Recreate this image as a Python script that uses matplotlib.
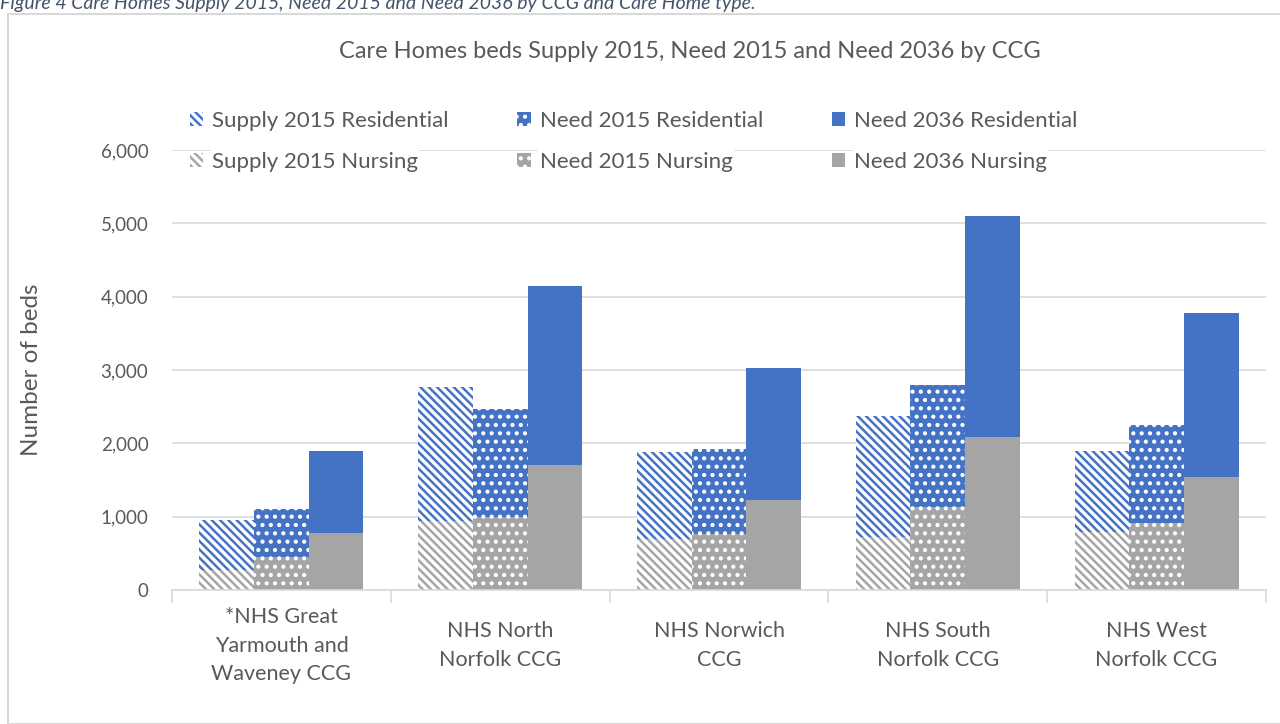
import numpy as np
import matplotlib
matplotlib.use("Agg")
from matplotlib import pyplot as plt
from matplotlib.patches import Rectangle

plt.rcParams['font.family'] = ['Lato', 'DejaVu Sans']
plt.rcParams['hatch.linewidth'] = 1.8

ccgs = ["*NHS Great\nYarmouth and\nWaveney CCG", "NHS North\nNorfolk CCG",
        "NHS Norwich\nCCG", "NHS South\nNorfolk CCG", "NHS West\nNorfolk CCG"]

# stacked: nursing at the bottom, residential on top
supply15_nursing = [273, 941, 695, 723, 795]
supply15_resid = [682, 1827, 1187, 1650, 1105]
need15_nursing = [450, 995, 764, 1132, 914]
need15_resid = [655, 1473, 1159, 1663, 1336]
need36_nursing = [777, 1705, 1227, 2086, 1541]
need36_resid = [1118, 2440, 1800, 3019, 2236]

blue = "#4472C4"
grey = "#A5A5A5"
txt = "#595959"

fig = plt.figure(figsize=(12.8, 7.24), dpi=100)
# outer chart frame + caption (caption is cropped at the top, as in the source)
fig.patches.append(Rectangle((8/1280, 0), 1.0, 1 - 14/724, transform=fig.transFigure,
                             fill=False, edgecolor="#d9d9d9", linewidth=1.5))
fig.text(0.0, 1 - 3/724, "Figure 4 Care Homes Supply 2015, Need 2015 and Need 2036 by CCG and Care Home type.",
         ha="left", va="center", fontsize=14, style="italic", color="#44546a")
fig.text(690/1280, 1 - 52/724, "Care Homes beds Supply 2015, Need 2015 and Need 2036 by CCG",
         ha="center", va="center", fontsize=17, color=txt)

ax = fig.add_axes([172/1280, 1 - 590/724, (1266 - 172)/1280, 440/724])
x = np.arange(len(ccgs))
w = 0.25

# supply 2015 - diagonal stripes
ax.bar(x - w, supply15_nursing, w, color="white", edgecolor=grey, hatch="\\\\\\\\", linewidth=0,
       label="Supply 2015 Nursing")
ax.bar(x - w, supply15_resid, w, bottom=supply15_nursing, color="white", edgecolor=blue,
       hatch="\\\\\\\\", linewidth=0, label="Supply 2015 Residential")
# need 2015 - dotted
ax.bar(x, need15_nursing, w, color=grey, edgecolor="white", hatch="..", linewidth=0,
       label="Need 2015 Nursing")
ax.bar(x, need15_resid, w, bottom=need15_nursing, color=blue, edgecolor="white", hatch="..",
       linewidth=0, label="Need 2015 Residential")
# need 2036 - solid
ax.bar(x + w, need36_nursing, w, color=grey, linewidth=0, label="Need 2036 Nursing")
ax.bar(x + w, need36_resid, w, bottom=need36_nursing, color=blue, linewidth=0,
       label="Need 2036 Residential")

ax.set_ylim(0, 6000)
ax.set_xlim(-0.5, len(ccgs) - 0.5)
ax.set_yticks(np.arange(0, 6001, 1000))
ax.set_yticklabels([f"{v:,}" for v in range(0, 6001, 1000)])
ax.yaxis.grid(True, color="#d9d9d9", linewidth=1.2)
ax.set_axisbelow(True)
ax.set_xticks(x)
ax.set_xticklabels(ccgs, linespacing=1.55, va="center")
ax.set_xticks(np.arange(-0.5, len(ccgs), 1), minor=True)
ax.tick_params(axis="x", which="major", length=0, pad=40, labelsize=15.5, labelcolor=txt)
ax.tick_params(axis="x", which="minor", length=9, color="#d9d9d9", width=1.2)
ax.tick_params(axis="y", length=0, pad=17, labelsize=13.5, labelcolor=txt)
for s in ["top", "right", "left"]:
    ax.spines[s].set_visible(False)
ax.spines["bottom"].set_color("#d9d9d9")
ax.spines["bottom"].set_linewidth(1.2)
ax.set_ylabel("Number of beds", fontsize=17.5, color=txt, labelpad=42)

h, l = ax.get_legend_handles_labels()
order = [1, 0, 3, 2, 5, 4]
leg = ax.legend([h[i] for i in order], [l[i] for i in order], ncol=3, frameon=False,
                loc="upper left", bbox_to_anchor=(0.0, 1.13), fontsize=16,
                handlelength=0.6, handleheight=0.6, handletextpad=0.4,
                columnspacing=3.1, labelspacing=0.95, borderpad=0.3)
for t in leg.get_texts():
    t.set_color(txt)
    t.set_bbox(dict(facecolor="white", edgecolor="none", pad=1))

fig.savefig("out.png", dpi=100)
